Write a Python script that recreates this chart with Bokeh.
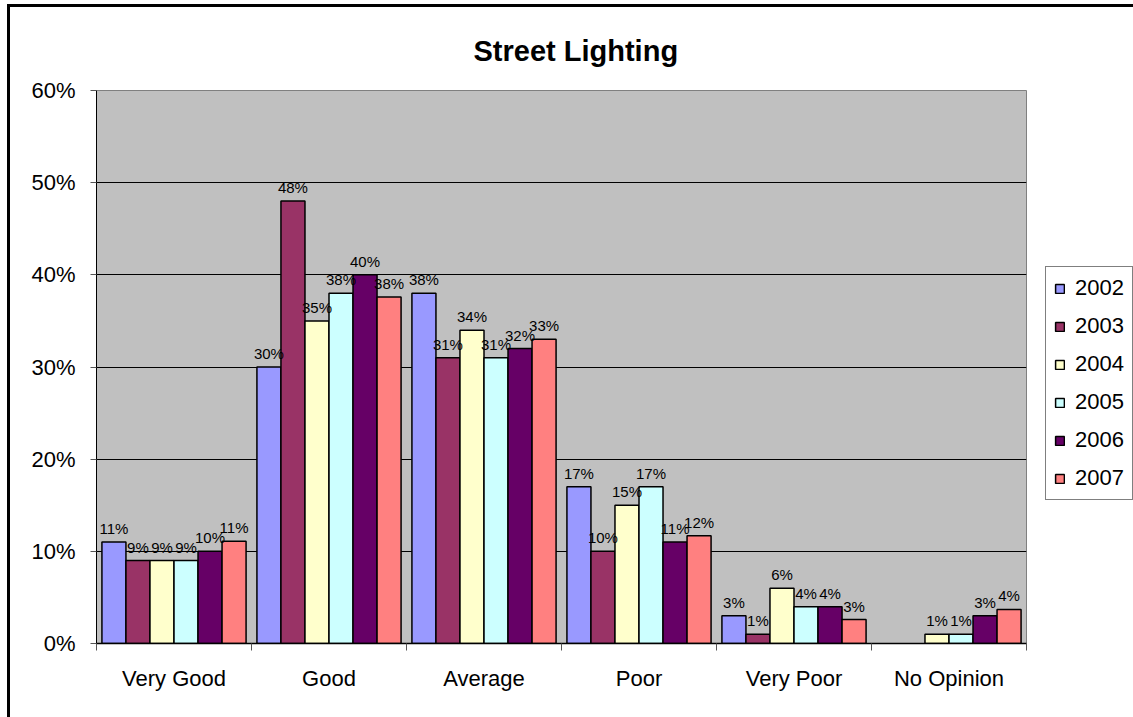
import math
from bokeh.plotting import figure
from bokeh.layouts import row
from bokeh.models import (ColumnDataSource, FixedTicker, NumeralTickFormatter,
                          LabelSet, Legend, LegendItem, Title)
from bokeh.core.properties import value
from bokeh.embed import file_html
from bokeh.resources import INLINE

nan = float("nan")

categories = ["Very Good", "Good", "Average", "Poor", "Very Poor", "No Opinion"]
years = ["2002", "2003", "2004", "2005", "2006", "2007"]
v2002 = [0.11, 0.30, 0.38, 0.17, 0.03, nan]
v2003 = [0.09, 0.48, 0.31, 0.10, 0.01, nan]
v2004 = [0.09, 0.35, 0.34, 0.15, 0.06, 0.01]
v2005 = [0.09, 0.38, 0.31, 0.17, 0.04, 0.01]
v2006 = [0.10, 0.40, 0.32, 0.11, 0.04, 0.03]
v2007 = [0.111, 0.376, 0.33, 0.117, 0.026, 0.037]
series = [v2002, v2003, v2004, v2005, v2006, v2007]
colors = ["#9999FF", "#993366", "#FFFFCC", "#CCFFFF", "#660066", "#FF8080"]

FONT = "Liberation Sans"

p = figure(width=1030, height=710, output_backend="svg", toolbar_location=None,
           x_range=(0, len(categories)), y_range=(0, 0.6),
           min_border_left=86, min_border_right=14, min_border_top=83,
           min_border_bottom=74)
p.background_fill_color = "#C0C0C0"
p.border_fill_color = "white"
p.outline_line_color = "#808080"
p.outline_line_width = 1

p.title = Title(text="Street Lighting", align="left", offset=377,
                vertical_align="middle",
                text_font=FONT, text_font_size="29px", text_font_style="bold",
                standoff=46, text_color="black")

bar_w = 0.155
for i, (yr, vals, col) in enumerate(zip(years, series, colors)):
    off = (i - 2.5) * bar_w
    xs = [k + 0.5 + off for k in range(len(categories))]
    src = ColumnDataSource(dict(x=xs, top=vals))
    p.vbar(x="x", top="top", width=bar_w, bottom=0, source=src,
           fill_color=col, line_color="black", line_width=1.5)
    lx = [x for x, v in zip(xs, vals) if not math.isnan(v)]
    ly = [v for v in vals if not math.isnan(v)]
    lt = ["%d%%" % round(v * 100) for v in ly]
    lsrc = ColumnDataSource(dict(x=lx, y=ly, t=lt))
    p.add_layout(LabelSet(x="x", y="y", text="t", source=lsrc, y_offset=5,
                          text_align="center", text_baseline="bottom",
                          text_font=value(FONT), text_font_size=value("15px"),
                          text_color="black"))

# grid
p.xgrid.visible = False
p.ygrid.grid_line_color = "black"
p.ygrid.grid_line_width = 1
p.ygrid.ticker = FixedTicker(ticks=[0.1, 0.2, 0.3, 0.4, 0.5])

# y axis
p.yaxis.ticker = FixedTicker(ticks=[0, 0.1, 0.2, 0.3, 0.4, 0.5, 0.6])
p.yaxis.formatter = NumeralTickFormatter(format="0%")
p.yaxis.major_label_text_font = FONT
p.yaxis.major_label_text_font_size = "22px"
p.yaxis.major_label_text_color = "black"
p.yaxis.major_tick_in = 0
p.yaxis.major_tick_out = 6
p.yaxis.minor_tick_line_color = None
p.yaxis.axis_line_color = "black"
p.yaxis.major_tick_line_color = "#555555"
p.yaxis.major_label_standoff = 15

# x axis
p.xaxis.ticker = FixedTicker(ticks=[k + 0.5 for k in range(len(categories))],
                             minor_ticks=list(range(len(categories) + 1)))
p.xaxis.major_label_overrides = {k + 0.5: c for k, c in enumerate(categories)}
p.xaxis.major_tick_in = 0
p.xaxis.major_tick_out = 0
p.xaxis.minor_tick_in = 0
p.xaxis.minor_tick_out = 7
p.xaxis.minor_tick_line_color = "#555555"
p.xaxis.axis_line_color = "black"
p.xaxis.axis_line_width = 1.5
p.xaxis.major_label_text_font = FONT
p.xaxis.major_label_text_font_size = "22px"
p.xaxis.major_label_text_color = "black"
p.xaxis.major_label_standoff = 15

# legend panel (separate small figure on the right)
pl = figure(width=93, height=710, output_backend="svg", toolbar_location=None,
            x_range=(0, 1), y_range=(0, 1), x_axis_type=None, y_axis_type=None,
            min_border_left=0, min_border_right=0, min_border_top=0,
            min_border_bottom=0)
pl.outline_line_color = None
pl.grid.visible = False
pl.background_fill_color = "white"
pl.border_fill_color = "white"
items = []
for yr, col in zip(years, colors):
    # swatch-only renderers (no drawable data); the legend shows their style
    r = pl.vbar(x=[nan], top=[nan], bottom=[nan], width=0.1, fill_color=col,
                line_color="black", line_width=1.5)
    items.append(LegendItem(label=yr, renderers=[r]))
legend = Legend(items=items, location=(5, 143),
                label_text_font=FONT, label_text_font_size="22px",
                label_text_color="black",
                glyph_width=11, glyph_height=11, label_height=24,
                label_standoff=10, spacing=12, padding=8, margin=0,
                border_line_color="black", border_line_width=1,
                background_fill_color="white", background_fill_alpha=1)
pl.add_layout(legend)

layout = row(p, pl)
layout.styles = {"margin-left": "7px", "margin-top": "4px",
                 "border-left": "3px solid black", "border-top": "3px solid black"}

open("out.html", "w").write(file_html(layout, INLINE))
